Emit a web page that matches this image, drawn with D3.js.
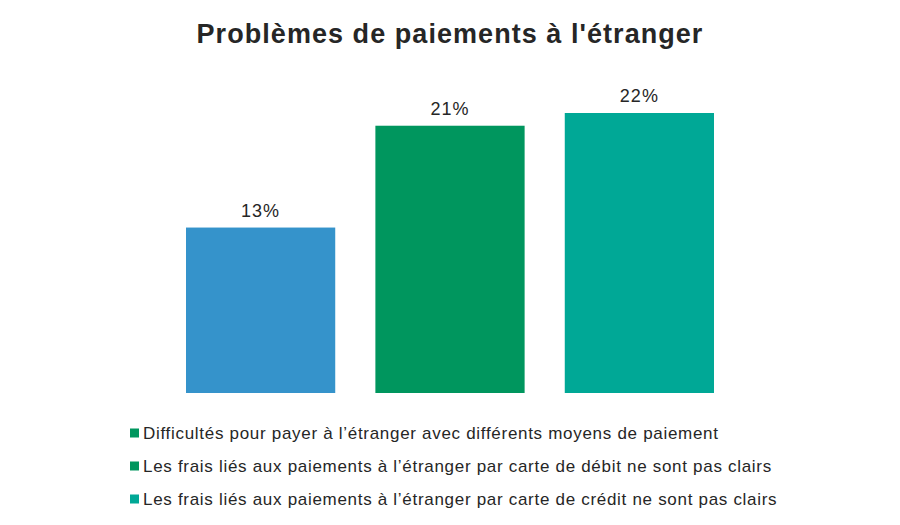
<!DOCTYPE html>
<html>
<head>
  <meta charset="UTF-8">
  <title>Problèmes de paiements à l'étranger</title>
  <style>
    body{ margin:0; background:#fff; }
    text{ font-family: "Liberation Sans", Arial, sans-serif; fill:#262626; }
  </style>
</head>
<body>
<svg></svg>
<script src="https://d3js.org/d3.v7.min.js"></script>
<script>

let width = 900, height = 525;

// data
const categories = [
  "Difficultés pour payer à l\u2019étranger avec différents moyens de paiement",
  "Les frais liés aux paiements à l\u2019étranger par carte de débit ne sont pas clairs",
  "Les frais liés aux paiements à l\u2019étranger par carte de crédit ne sont pas clairs"
];
const values = [13, 21, 22];
const barColors = ["#3593CB", "#00965E", "#00A896"];
// legend markers as shown in the original (first one is green there)
const legendColors = ["#00965E", "#00965E", "#00A896"];

let svg = d3.select("svg")
    .attr("width", width)
    .attr("height", height);

svg.append("text")
    .attr("x", 450)
    .attr("y", 43)
    .attr("text-anchor", "middle")
    .attr("font-size", 27)
    .attr("font-weight", "bold")
    .attr("letter-spacing", 1.05)
    .text("Problèmes de paiements à l'étranger");

let x = d3.scaleBand()
    .domain(d3.range(values.length))
    .range([186, 714])
    .paddingInner(0.212)
    .paddingOuter(0);

let y = d3.scaleLinear()
    .domain([0, 22])
    .range([393, 113]);

svg.append("g")
    .selectAll("rect")
    .data(values)
    .enter().append("rect")
    .attr("x", (d, i) => x(i))
    .attr("y", d => y(d))
    .attr("width", x.bandwidth())
    .attr("height", d => y(0) - y(d))
    .attr("fill", (d, i) => barColors[i]);

svg.append("g")
    .selectAll("text")
    .data(values)
    .enter().append("text")
    .attr("x", (d, i) => x(i) + x.bandwidth() / 2)
    .attr("y", d => y(d) - 11)
    .attr("text-anchor", "middle")
    .attr("font-size", 18)
    .attr("letter-spacing", 1)
    .text(d => d + "%");

// legend
let legend = svg.append("g")
    .selectAll("g")
    .data(categories)
    .enter().append("g")
    .attr("transform", (d, i) => "translate(130," + (433 + i * 33) + ")");

legend.append("rect")
    .attr("x", 0)
    .attr("y", -4.5)
    .attr("width", 9)
    .attr("height", 9)
    .attr("fill", (d, i) => legendColors[i]);

legend.append("text")
    .attr("x", 13)
    .attr("y", 6)
    .attr("font-size", 17)
    .attr("letter-spacing", 0.7)
    .text(d => d);

</script>
</body>
</html>
